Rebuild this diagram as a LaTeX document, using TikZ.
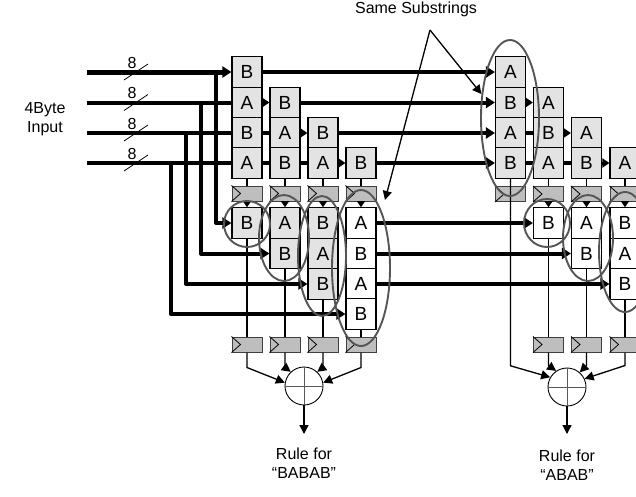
\documentclass[tikz,border=0pt]{standalone}
\usepackage{fontspec}
\setmainfont{Liberation Sans}
\usetikzlibrary{arrows.meta,shapes.geometric}
\definecolor{cellgrey}{HTML}{E3E3E3}
\definecolor{reggrey}{HTML}{BEBEBE}
\definecolor{ringgrey}{HTML}{555555}
\tikzset{
  cellg/.style={draw=black,line width=1.2pt,fill=cellgrey,minimum width=30pt,minimum height=30.4pt,inner sep=0pt,font=\fontsize{19}{19}\selectfont},
  cellw/.style={cellg,fill=white},
  reg/.style={draw=black!75,line width=1pt,fill=reggrey,minimum width=30pt,minimum height=15pt,inner sep=0pt},
  bus/.style={line width=4pt},
  busend/.style={line width=4pt,-{Triangle[length=9pt,width=11pt]}},
  thin wire/.style={line width=1.3pt},
  drop/.style={line width=1.2pt,-{Triangle[length=6pt,width=8pt]}},
  merge/.style={line width=1.3pt,-{Triangle[length=9pt,width=9pt]}},
  ring/.style={draw=ringgrey,line width=1.9pt,ellipse,inner sep=0pt},
  xorc/.style={draw=black,line width=0.9pt,circle,minimum size=38pt,inner sep=0pt,fill=white},
  lbl/.style={font=\fontsize{16}{19}\selectfont,align=center,inner sep=0pt},
  note/.style={line width=1.3pt,-{Triangle[length=9pt,width=9pt]}},
  tick/.style={line width=0.8pt}
}
\newcommand{\regbox}[3]{\node[reg] (#1) at (#2,#3) {};
  \draw[line width=.8pt] (#1.north west) -- ([xshift=9pt]#1.west) -- (#1.south west);}
\begin{document}
\begin{tikzpicture}[x=1pt,y=-1pt]
\useasboundingbox (0,0) rectangle (636,496);
\clip (0,0) rectangle (636,496);
% input ends and labels
\foreach \n/\y in {1/72,2/102.5,3/133,4/163}{
  \coordinate (in\n) at (87,\y);
  \node[lbl] (eight\n) at (132,\y-9.5) {8};
}
\coordinate (v1) at (216,0);\coordinate (v2) at (201,0);\coordinate (v3) at (186,0);\coordinate (v4) at (171,0);
% cells
\foreach \nm/\x/\y/\t in {a11/247/72/B,a12/247/102.5/A,a13/247/133/B,a14/247/163/A,
  a22/285/102.5/B,a23/285/133/A,a24/285/163/B,a33/323/133/B,a34/323/163/A,a44/361/163/B,
  l11/247/223/B,l21/285/223/A,l22/285/253.5/B,l31/323/223/B,l32/323/253.5/A,l33/323/284/B,
  b11/510.5/72/A,b12/510.5/102.5/B,b13/510.5/133/A,b14/510.5/163/B,
  b22/548.5/102.5/A,b23/548.5/133/B,b24/548.5/163/A,b33/586.5/133/A,b34/586.5/163/B,b44/625/163/A}
  {\node[cellg] (\nm) at (\x,\y) {\t};}
\foreach \nm/\x/\y/\t in {l41/361/223/A,l42/361/253.5/B,l43/361/284/A,l44/361/314/B,
  m21/548.5/223/B,m31/586.5/223/A,m32/586.5/253.5/B,m41/625/223/B,m42/625/253.5/A,m43/625/284/B}
  {\node[cellw] (\nm) at (\x,\y) {\t};}
% registers
\regbox{r1}{247}{193.5}\regbox{r2}{285}{193.5}\regbox{r3}{323}{193.5}\regbox{r4}{361}{193.5}
\regbox{s1}{247}{344.5}\regbox{s2}{285}{344.5}\regbox{s3}{323}{344.5}\regbox{s4}{361}{344.5}
\regbox{p1}{510.5}{194}\regbox{p2}{548.5}{194}\regbox{p3}{586.5}{194}\regbox{p4}{625}{194}
\regbox{q2}{548.5}{344.5}\regbox{q3}{586.5}{344.5}\regbox{q4}{625}{344.5}
% input buses
\draw[busend,line width=5pt] (in1) -- (a11.west);
\draw[bus] (in2) -- (a12.west);
\draw[bus] (in3) -- (a13.west);
\draw[bus] (in4) -- (a14.west);
\draw[busend,line join=round] (v1 |- in1) -- (v1 |- l11) -- (l11.west);
\draw[busend,line join=round] (v2 |- in2) -- (v2 |- l22) -- (l22.west);
\draw[busend,line join=round] (v3 |- in3) -- (v3 |- l33) -- (l33.west);
\draw[busend,line join=round] (v4 |- in4) -- (v4 |- l44) -- (l44.west);
% width ticks
\foreach \n in {1,2,3,4}{
  \draw[tick] ([shift={(-8,17.5)}]eight\n.center) -- ([shift={(16,1.5)}]eight\n.center);
}
% shifts between cells
\draw[busend,line width=3pt,-{Triangle[length=7pt,width=9pt]}] (a12.east) -- (a22.west);
\draw[bus] (a13.east) -- (a23.west);
\draw[busend,line width=3pt,-{Triangle[length=7pt,width=9pt]}] (a23.east) -- (a33.west);
\draw[bus] (a14.east) -- (a24.west);
\draw[bus] (a24.east) -- (a34.west);
\draw[busend,line width=3pt,-{Triangle[length=7pt,width=9pt]}] (a34.east) -- (a44.west);
\draw[busend,line width=3pt,-{Triangle[length=7pt,width=9pt]}] (b12.east) -- (b22.west);
\draw[bus] (b13.east) -- (b23.west);
\draw[busend,line width=3pt,-{Triangle[length=7pt,width=9pt]}] (b23.east) -- (b33.west);
\draw[bus] (b14.east) -- (b24.west);
\draw[bus] (b24.east) -- (b34.west);
\draw[busend,line width=3pt,-{Triangle[length=7pt,width=9pt]}] (b34.east) -- (b44.west);
% long runs between the two halves
\draw[busend] (a11.east) -- (b11.west);
\draw[busend] (a22.east) -- (b12.west);
\draw[busend] (a33.east) -- (b13.west);
\draw[busend] (a44.east) -- (b14.west);
\draw[busend] (l41.east) -- (m21.west);
\draw[busend] (l42.east) -- (m32.west);
\draw[busend] (l43.east) -- (m43.west);
% stems
\foreach \a/\r in {a14/r1,a24/r2,a34/r3,a44/r4,b24/p2,b34/p3,b44/p4}{\draw[thin wire] (\a.south) -- (\r.north);}
\foreach \r/\l in {r1/l11,r2/l21,r3/l31,r4/l41,p2/m21,p3/m31,p4/m41}{\draw[drop] (\r.south) -- (\l.north);}
\foreach \l/\s in {l11/s1,l22/s2,l33/s3,l44/s4,m21/q2,m32/q3,m43/q4}{\draw[thin wire] (\l.south) -- (\s.north);}
% adders
\node[xorc] (xl) at (304,386) {};
\node[xorc] (xr) at (567,387) {};
\foreach \c in {xl,xr}{
  \draw[line width=.9pt,black!65] (\c.north) -- (\c.south) (\c.west) -- (\c.east);
}
\draw[merge] (s1.south) -- ++(0,15) -- (xl.170);
\draw[merge] (s2.south) -- ++(0,15) -- (xl.133);
\draw[merge] (s3.south) -- ++(0,15) -- (xl.47);
\draw[merge] (s4.south) -- ++(0,15) -- (xl.10);
\draw[merge] (b14.south) -- ++(0,187) -- (xr.150);
\draw[merge] (q2.south) -- ++(0,13) -- (xr.124);
\draw[merge] (q3.south) -- ++(0,13) -- (xr.49);
\draw[merge] (q4.south) -- ++(0,13) -- (xr.25);
\coordinate (ol) at (304,434);\coordinate (or) at (567,434);
\draw[merge] (xl.south) -- (ol);
\draw[merge] (xr.south) -- (or);
% rings
\foreach \nm/\x/\y/\rx/\ry in {e1/247/224/23/23,e2/284/238/25/43,e3/322/256/24/60,e4/361/268/29/78,
  f0/510/118/29/78,f1/547/223/23/24,f2/588/238/25/43,f3/625/252/26/60}{
  \node[ring,minimum width=2*\rx pt,minimum height=2*\ry pt] (\nm) at (\x,\y) {};
}
% labels
\node[lbl] (same) at (416,9) {Same Substrings};
\coordinate (fork) at (430,30);
\draw[note] (fork) -- (f0.140);
\draw[note] (fork) -- (385,200);
\node[lbl] (inp) at (45,119) {4Byte\\Input};
\node[lbl] (rl) at (304,463) {Rule for\\“BABAB”};
\node[lbl] (rr) at (567,465) {Rule for\\“ABAB”};
\end{tikzpicture}
\end{document}
